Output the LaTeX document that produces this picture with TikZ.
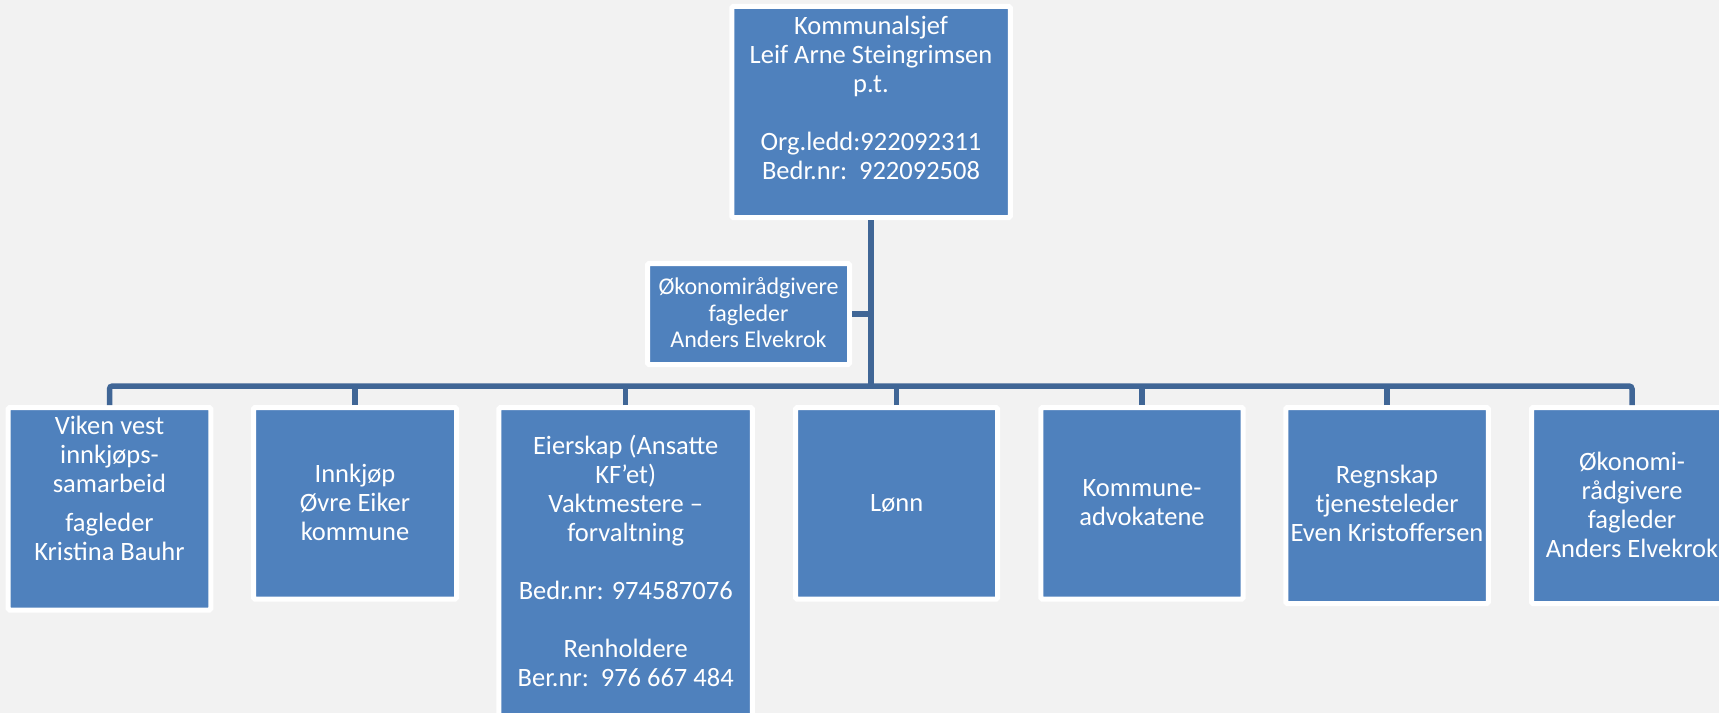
\documentclass[tikz,border=0pt]{standalone}
\usepackage{fontspec}
\setmainfont{Carlito}
\definecolor{bgc}{HTML}{F2F2F2}
\definecolor{boxc}{HTML}{4F81BD}
\definecolor{linec}{RGB}{64,102,150}
\tikzset{
  box/.style={draw=white, line width=5bp, fill=boxc, rounded corners=1.5bp, inner sep=0pt},
  txt/.style={text=white, font=\fontsize{26.5bp}{29bp}\selectfont, align=center, inner sep=0pt, anchor=north},
  smalltxt/.style={txt, font=\fontsize{24bp}{26.5bp}\selectfont},
  conn/.style={draw=linec, line width=5.5bp},
}
\begin{document}
\begin{tikzpicture}[x=1bp,y=-1bp]
\useasboundingbox (0,0) rectangle (1719,713);
\clip (0,0) rectangle (1719,713);
\fill[bgc] (0,0) rectangle (1719,713);

% boxes
\node[box, minimum width=278.5bp, minimum height=211bp] (top) at (871,112) {};
\node[box, minimum width=202bp, minimum height=101bp] (eco) at (748.5,314) {};
\node[box, minimum width=202.5bp, minimum height=202.5bp] (b1) at (109.5,508.75) {};
\node[box, minimum width=203bp, minimum height=191.7bp] (b2) at (355,503.35) {};
\node[box, minimum width=253.5bp, minimum height=392.5bp] (b3) at (625.7,603.75) {};
\node[box, minimum width=202bp, minimum height=191.7bp] (b4) at (896.7,503.35) {};
\node[box, minimum width=202.4bp, minimum height=191.7bp] (b5) at (1142,503.35) {};
\node[box, minimum width=202.5bp, minimum height=196bp] (b6) at (1387,505.5) {};
\node[box, minimum width=201bp, minimum height=196bp] (b7) at (1632,505.5) {};

% texts
\node[txt] (ttop) at (871,14) {\strut Kommunalsjef\\Leif Arne Steingrimsen\\p.t.\\[29bp]Org.ledd:922092311\\Bedr.nr:\ \ 922092508};
\node[smalltxt] (teco) at (748.5,275.75) {\strut Økonomirådgivere\\fagleder\\Anders Elvekrok};
\node[txt] (t1) at (109.5,413.7) {\strut Viken vest\\innkjøps-\\samarbeid\\[10.5bp]fagleder\\Kristina Bauhr};
\node[txt] (t2) at (355,461.7) {\strut Innkjøp\\Øvre Eiker\\kommune};
\node[txt] (t3) at (625.7,434) {\strut Eierskap (Ansatte\\KF’et)\\Vaktmestere –\\forvaltning\\[29bp]Bedr.nr: 974587076\\[29bp]Renholdere\\Ber.nr:\ \ 976 667 484};
\node[txt] (t4) at (896.7,491.4) {\strut Lønn};
\node[txt] (t5) at (1142,475.7) {\strut Kommune-\\advokatene};
\node[txt] (t6) at (1387,463) {\strut Regnskap\\tjenesteleder\\Even Kristoffersen};
\node[txt] (t7) at (1632,449.7) {\strut Økonomi-\\rådgivere\\fagleder\\Anders Elvekrok};

% connectors
\coordinate (bar) at (871,386);
\draw[conn, line width=6bp] (top.south) -- (bar);
\draw[conn] (eco.east) -- (eco.east -| top.south);
\draw[conn, rounded corners=3bp] (b1.north) |- (b7.north |- bar) -- (b7.north);
\foreach \b in {b2,b3,b4,b5,b6} {
  \draw[conn] (\b.north) -- (\b.north |- bar);
}
\end{tikzpicture}
\end{document}
